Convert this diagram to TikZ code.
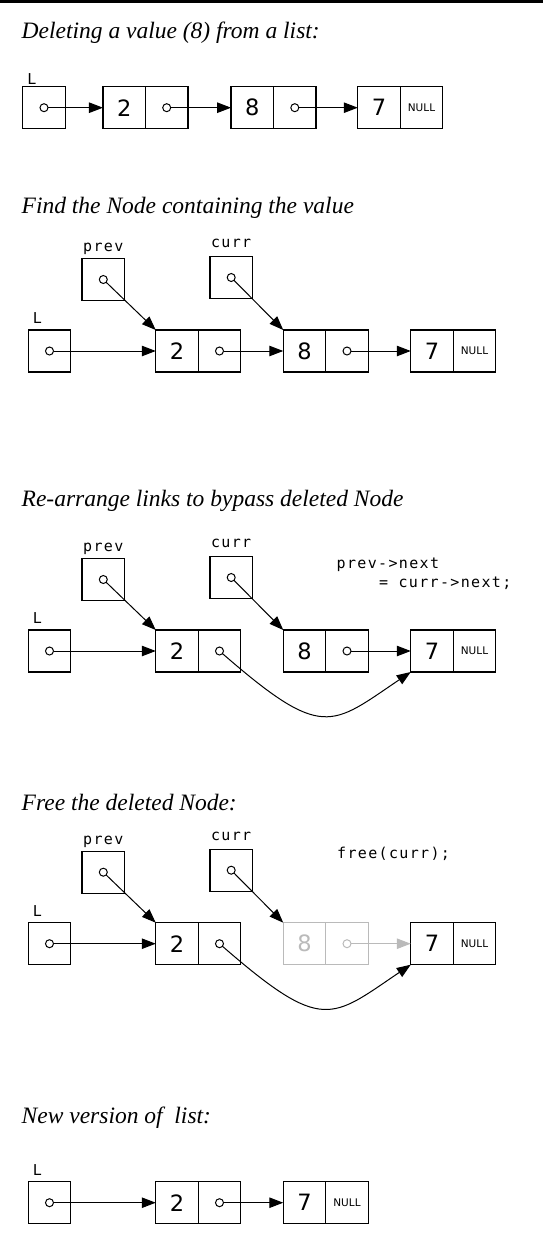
\documentclass[tikz,border=0pt]{standalone}
\usepackage{fontspec}
\setmainfont{Liberation Serif}
\newfontfamily\sansdigits{DejaVu Sans}
\newfontfamily\monolabel[LetterSpace=9]{DejaVu Sans Mono}
\usetikzlibrary{positioning,arrows.meta}

\begin{document}
\begin{tikzpicture}[x=1pt,y=1pt,
	cell/.style={draw, line width=1.3pt, minimum width=42.5pt, minimum height=42pt, inner sep=0pt, outer sep=0pt, font=\sansdigits\fontsize{22.5}{24}\selectfont},
	nullcell/.style={cell, font=\sansdigits\fontsize{10.5}{12}\selectfont},
	dot/.style={circle, draw, fill=white, line width=1pt, minimum size=8pt, inner sep=0pt, outer sep=0pt},
	ptr/.style={-{Triangle[length=14pt,width=10.5pt]}, line width=1pt},
	ghost/.style={draw=black!27, text=black!27},
	title/.style={anchor=base west, inner sep=0pt, font=\fontsize{23.5}{28}\selectfont\itshape},
	lbl/.style={inner sep=0pt, text depth=0pt, font=\monolabel\fontsize{15}{17}\selectfont},
	code/.style={lbl, anchor=base west}]
	\useasboundingbox (0,0) rectangle (543,-1242);
	\fill (0,0) rectangle (543,-2.7);
	
	\node[title] (atitle) at (21.5,-38.3) {Deleting a value (8) from a list:};
	\node[cell] (aL) at (44,-107.7) {};
	\node[dot] (aLd) at (aL) {};
	\node[code] (aLt) at ([shift={(4.5,2.5)}]aL.north west) {L};
	\node[cell] (a2) at (124.2,-107.7) {2};
	\node[cell, right=0pt of a2] (a2p) {};
	\node[dot] (a2d) at (a2p) {};
	\node[cell] (a8) at (252.3,-107.7) {8};
	\node[cell, right=0pt of a8] (a8p) {};
	\node[dot] (a8d) at (a8p) {};
	\node[cell] (a7) at (379,-107.7) {7};
	\node[nullcell, right=0pt of a7] (a7n) {NULL};
	\draw[ptr] (aLd) -- (a2.west);
	\draw[ptr] (a2d) -- (a8.west);
	\draw[ptr] (a8d) -- (a7.west);
	
	\node[title] (btitle) at (21.5,-213.3) {Find the Node containing the value};
	\node[cell] (bprev) at (103.3,-279.5) {};
	\node[dot] (bprevd) at (bprev) {};
	\node[lbl, above=6.5pt of bprev] (bprevt) {prev};
	\node[cell] (bcurr) at (231.2,-277.5) {};
	\node[dot] (bcurrd) at (bcurr) {};
	\node[lbl, above=8.5pt of bcurr] (bcurrt) {curr};
	\node[cell] (bL) at (49.5,-351) {};
	\node[dot] (bLd) at (bL) {};
	\node[code] (bLt) at ([shift={(4.5,6.5)}]bL.north west) {L};
	\node[cell] (b2) at (177,-351) {2};
	\node[cell, right=0pt of b2] (b2p) {};
	\node[dot] (b2d) at (b2p) {};
	\node[cell] (b8) at (304.5,-351) {8};
	\node[cell, right=0pt of b8] (b8p) {};
	\node[dot] (b8d) at (b8p) {};
	\node[cell] (b7) at (432,-351) {7};
	\node[nullcell, right=0pt of b7] (b7n) {NULL};
	\draw[ptr] (bLd) -- (b2.west);
	\draw[ptr] (b2d) -- (b8.west);
	\draw[ptr] (b8d) -- (b7.west);
	\draw[ptr] (bprevd) -- (b2.north west);
	\draw[ptr] (bcurrd) -- (b8.north west);
	
	\node[title] (ctitle) at (21.5,-506.7) {Re-arrange links to bypass deleted Node};
	\node[cell] (cprev) at (103.3,-579.5) {};
	\node[dot] (cprevd) at (cprev) {};
	\node[lbl, above=6.5pt of cprev] (cprevt) {prev};
	\node[cell] (ccurr) at (231.2,-577.5) {};
	\node[dot] (ccurrd) at (ccurr) {};
	\node[lbl, above=8.5pt of ccurr] (ccurrt) {curr};
	\node[code] (ccode) at (336.5,-568.3) {prev->next};
	\node[code] (ccodeb) at ([shift={(42.4,-19)}]ccode.base west) {= curr->next;};
	\node[cell] (cL) at (49.5,-651) {};
	\node[dot] (cLd) at (cL) {};
	\node[code] (cLt) at ([shift={(4.5,6.5)}]cL.north west) {L};
	\node[cell] (c2) at (177,-651) {2};
	\node[cell, right=0pt of c2] (c2p) {};
	\node[dot] (c2d) at (c2p) {};
	\node[cell] (c8) at (304.5,-651) {8};
	\node[cell, right=0pt of c8] (c8p) {};
	\node[dot] (c8d) at (c8p) {};
	\node[cell] (c7) at (432,-651) {7};
	\node[nullcell, right=0pt of c7] (c7n) {NULL};
	\draw[ptr] (cLd) -- (c2.west);
	\draw[ptr] (c8d) -- (c7.west);
	\draw[ptr] (cprevd) -- (c2.north west);
	\draw[ptr] (ccurrd) -- (c8.north west);
	\draw[ptr] (c2d) to[out=-41, in=-146, out looseness=1.8, in looseness=1.3] (c7.south west);
	
	\node[title] (dtitle) at (21.5,-810) {Free the deleted Node:};
	\node[cell] (dprev) at (103.3,-872.2) {};
	\node[dot] (dprevd) at (dprev) {};
	\node[lbl, above=6.5pt of dprev] (dprevt) {prev};
	\node[cell] (dcurr) at (231.2,-870.2) {};
	\node[dot] (dcurrd) at (dcurr) {};
	\node[lbl, above=8.5pt of dcurr] (dcurrt) {curr};
	\node[code] (dcode) at (337,-858.3) {free(curr);};
	\node[cell] (dL) at (49.5,-943.7) {};
	\node[dot] (dLd) at (dL) {};
	\node[code] (dLt) at ([shift={(4.5,6.5)}]dL.north west) {L};
	\node[cell] (d2) at (177,-943.7) {2};
	\node[cell, right=0pt of d2] (d2p) {};
	\node[dot] (d2d) at (d2p) {};
	\node[cell, ghost] (d8) at (304.5,-943.7) {8};
	\node[cell, ghost, right=0pt of d8] (d8p) {};
	\node[dot, ghost] (d8d) at (d8p) {};
	\node[cell] (d7) at (432,-943.7) {7};
	\node[nullcell, right=0pt of d7] (d7n) {NULL};
	\draw[ptr] (dLd) -- (d2.west);
	\draw[ptr, color=black!27] (d8d) -- (d7.west);
	\draw[ptr] (dprevd) -- (d2.north west);
	\draw[ptr] (dcurrd) -- (d8.north west);
	\draw[ptr] (d2d) to[out=-41, in=-146, out looseness=1.8, in looseness=1.3] (d7.south west);
	
	\node[title] (etitle) at (21.5,-1123.3) {New version of\ \ list:};
	\node[cell] (eL) at (49.5,-1202.7) {};
	\node[dot] (eLd) at (eL) {};
	\node[code] (eLt) at ([shift={(4.5,6.5)}]eL.north west) {L};
	\node[cell] (e2) at (177,-1202.7) {2};
	\node[cell, right=0pt of e2] (e2p) {};
	\node[dot] (e2d) at (e2p) {};
	\node[cell] (e7) at (304.5,-1202.7) {7};
	\node[nullcell, right=0pt of e7] (e7n) {NULL};
	\draw[ptr] (eLd) -- (e2.west);
	\draw[ptr] (e2d) -- (e7.west);
\end{tikzpicture}
\end{document}
